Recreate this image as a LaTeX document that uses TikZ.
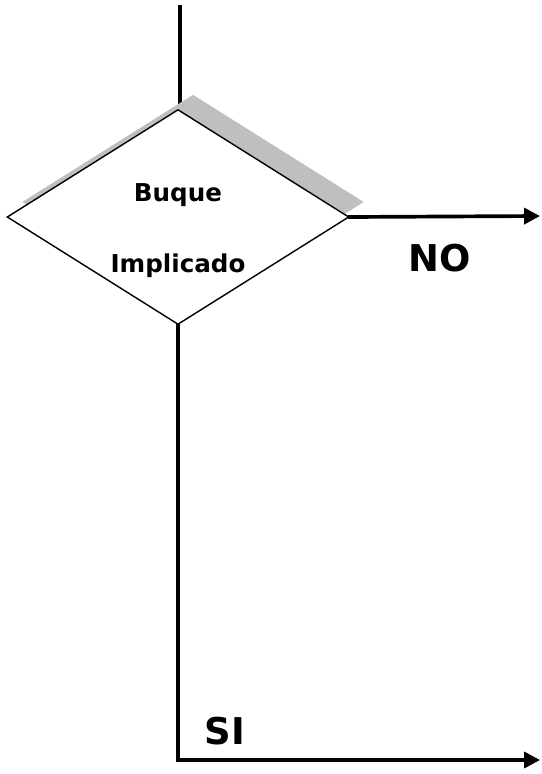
\documentclass[tikz,border=0pt]{standalone}
\usepackage{fontspec}
\setmainfont{DejaVu Sans}
\usetikzlibrary{shapes.geometric,shadows,arrows.meta,backgrounds}
\begin{document}
\begin{tikzpicture}[x=0.02cm, y=-0.02cm,
  flow/.style={line width=2.1pt, line cap=rect},
  arrowline/.style={flow, -{Triangle[length=9pt,width=9pt]}},
  decision/.style={diamond, draw=black, line width=0.8pt, fill=white,
    minimum width=6.84cm, minimum height=4.3cm, inner sep=0pt, aspect=1.6,
    drop shadow={shadow xshift=0.3cm, shadow yshift=0.3cm, fill=black!25, opacity=1}},
  decisiontext/.style={align=center, yshift=-0.27cm, font=\bfseries\fontsize{14}{17}\selectfont},
  answer/.style={font=\bfseries\fontsize{21}{24}\selectfont}]
\useasboundingbox (0,0) rectangle (541,774);

%decision
\node[decision, label={[decisiontext]center:{Buque\\[23pt]Implicado}}] (dec) at (178,217) {};

\coordinate (start) at (180,7);
\coordinate (noend) at (540,216);
\coordinate (siend) at (540,760);

%incoming line behind the shadow
\begin{scope}[on background layer]
\draw[flow] (start) -- (start |- dec.north);
\end{scope}

%exits
\draw[arrowline] (dec.east) -- (noend);
\draw[arrowline] (dec.south) -- (dec.south |- siend) -- (siend);

\node[answer] (no) at (440,258) {NO};
\node[answer] (si) at (225,731) {SI};
\end{tikzpicture}
\end{document}
